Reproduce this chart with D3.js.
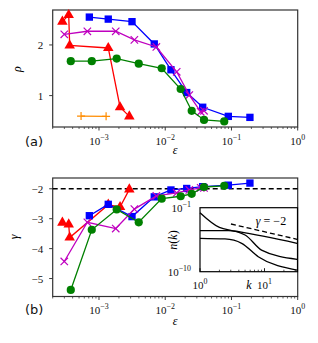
<!DOCTYPE html>
<html>
<head>
<meta charset="utf-8">
<script src="https://cdn.jsdelivr.net/npm/d3@7"></script>
<style>
body{margin:0;background:#fff}
svg{display:block}
</style>
</head>
<body>
<div id="chart"></div>
<script>
// values
const epsBlue = [7.15e-4, 1.38e-3, 3.15e-3, 6.83e-3, 0.0122, 0.0211, 0.0368, 0.0896, 0.19];
const rhoBlue = [2.55, 2.51, 2.46, 2.02, 1.51, 1.06, 0.77, 0.59, 0.57];
const gamBlue = [-2.90, -2.52, -2.93, -2.27, -2.04, -1.99, -1.93, -1.88, -1.81];

const epsMag = [2.99e-4, 6.67e-4, 1.79e-3, 3.42e-3, 7.34e-3, 0.0149, 0.0231, 0.0343, 0.0385];
const rhoMag = [2.21, 2.27, 2.27, 2.10, 1.96, 1.47, 1.01, 0.68, 0.70];
const gamMag = [-4.43, -3.12, -3.33, -2.68, -2.24, -2.14, -2.04, -1.97, -1.97];

const epsGreen = [3.75e-4, 7.78e-4, 1.85e-3, 3.98e-3, 8.85e-3, 0.0171, 0.0251, 0.0385, 0.0778];
const rhoGreen = [1.68, 1.68, 1.73, 1.63, 1.54, 1.13, 0.70, 0.52, 0.49];
const gamGreen = [-5.38, -3.37, -2.69, -3.12, -2.33, -2.25, -2.17, -1.94, -1.90];

const epsRed = [2.8e-4, 3.49e-4, 3.61e-4, 1.38e-3, 2.08e-3, 2.87e-3];
const rhoRed = [2.46, 2.59, 1.99, 1.94, 0.77, 0.59];
const gamRed = [-3.13, -3.19, -3.63, -2.53, -2.61, -2.02];

const epsOrange = [5.36e-4, 1.28e-3];
const rhoOrange = [0.596, 0.59];

const rhoTicks = [1, 2];
const gamTicks = [-2, -3, -4, -5];
const epsTicks = [1e-3, 1e-2, 1e-1, 1];
const gammaRef = -2;

// inset n(k) curves
const kTop = [1, 2, 3, 4, 32];
const nTop = [2e-2, 1.7e-4, 6.5e-5, 4.2e-5, 9.8e-7];
const kMid = [1, 2.75, 5, 9, 32];
const nMid = [5.9e-5, 5.9e-5, 1.45e-5, 1.1e-7, 5.5e-9];
const kLow = [1, 2.44, 4.43, 8, 32];
const nLow = [5e-6, 4e-6, 9.8e-7, 1.3e-8, 1.7e-10];
const kDash = [3.02, 32];
const nDash = [5.1e-4, 3.6e-6];
const kTicks = [1, 10];
const nTicks = [1e-1, 1e-10];

const W = 318, H = 343;
const svg = d3.select("#chart").append("svg").attr("width", W).attr("height", H);

const serif = "'Liberation Serif', 'DejaVu Serif', serif";
const sans = "'DejaVu Sans', sans-serif";

const x = d3.scaleLog().domain([2e-4, 1]).range([52.7, 297.7]);
const yA = d3.scaleLinear().domain([0.38, 2.69]).range([127, 10]);
const yB = d3.scaleLinear().domain([-5.6, -1.64]).range([296.5, 178]);

const minus = s => String(s).replace("-", "\u2212");

function powLabel(sel, v, size){
    let e = Math.round(Math.log10(v));
    sel.append("tspan").text("10").attr("font-size", size);
    sel.append("tspan").text(minus(e)).attr("font-size", size*0.72).attr("dy", -size*0.42);
}

function marker(g, type, color){
    if (type === "square")
        g.append("path").attr("d", d3.symbol(d3.symbolSquare, 54)()).attr("fill", color);
    else if (type === "circle")
        g.append("circle").attr("r", 4.1).attr("fill", color);
    else if (type === "tri")
        g.append("path").attr("d", d3.symbol(d3.symbolTriangle, 48)()).attr("fill", color);
    else if (type === "x")
        g.append("path").attr("d", "M-3.7,-3.7L3.7,3.7M-3.7,3.7L3.7,-3.7")
            .attr("stroke", color).attr("stroke-width", 1.2).attr("fill", "none");
    else if (type === "plus")
        g.append("path").attr("d", "M-4,0L4,0M0,-4L0,4")
            .attr("stroke", color).attr("stroke-width", 1.2).attr("fill", "none");
}

function drawSeries(g, xs, ys, y, color, type){
    let pts = xs.map((d, i) => [d, ys[i]]);
    g.append("path").datum(pts)
        .attr("fill", "none").attr("stroke", color).attr("stroke-width", 1.3)
        .attr("d", d3.line().x(d => x(d[0])).y(d => y(d[1])));
    g.selectAll(null).data(pts).join("g")
        .attr("transform", d => `translate(${x(d[0])},${y(d[1])})`)
        .each(function(){ marker(d3.select(this), type, color); });
}

function drawFrame(y, yTicks, label, tag, xlabelY){
    let [x0, x1] = x.range(), [y1, y0] = y.range();
    let g = svg.append("g");
    // x ticks
    let minors = [];
    for (let p = -4; p < 0; p++) for (let m = 2; m < 10; m++){
        let v = m * Math.pow(10, p);
        if (v >= x.domain()[0] && v <= 1) minors.push(v);
    }
    g.selectAll(null).data(minors).join("line")
        .attr("x1", d => x(d)).attr("x2", d => x(d))
        .attr("y1", y1).attr("y2", y1 + 2)
        .attr("stroke", "#222").attr("stroke-width", 0.7);
    g.selectAll(null).data(epsTicks).join("line")
        .attr("x1", d => x(d)).attr("x2", d => x(d))
        .attr("y1", y1).attr("y2", y1 + 3.5)
        .attr("stroke", "#222").attr("stroke-width", 0.9);
    g.selectAll(null).data(epsTicks).join("text")
        .attr("x", d => x(d)).attr("y", y1 + 17.5)
        .attr("text-anchor", "middle").attr("font-family", serif).attr("fill", "#111")
        .each(function(d){ powLabel(d3.select(this), d, 11); });
    // y ticks
    g.selectAll(null).data(yTicks).join("line")
        .attr("x1", x0 - 3.5).attr("x2", x0)
        .attr("y1", d => y(d)).attr("y2", d => y(d))
        .attr("stroke", "#222").attr("stroke-width", 0.9);
    g.selectAll(null).data(yTicks).join("text")
        .attr("x", x0 - 9.5).attr("y", d => y(d) + 4)
        .attr("text-anchor", "end").attr("font-family", serif).attr("font-size", 11)
        .attr("fill", "#111")
        .text(d => minus(d));
    // frame
    g.append("rect").attr("x", x0).attr("y", y0).attr("width", x1 - x0).attr("height", y1 - y0)
        .attr("fill", "none").attr("stroke", "#333").attr("stroke-width", 1.2);
    // labels
    g.append("text").attr("x", (x0 + x1) / 2).attr("y", xlabelY)
        .attr("text-anchor", "middle").attr("font-family", serif).attr("font-style", "italic")
        .attr("font-size", 12).text("\u03b5");
    g.append("text").attr("transform", `translate(${label.x},${label.y}) rotate(-90)`)
        .attr("text-anchor", "middle").attr("font-family", serif).attr("font-style", "italic")
        .attr("font-size", 12).text(label.t);
    g.append("text").attr("x", tag.x).attr("y", tag.y)
        .attr("font-family", sans).attr("font-size", 13).attr("fill", "#111").text(tag.t);
}

// panel (a)
drawFrame(yA, rhoTicks, {x: 21, y: 69, t: "\u03c1"}, {x: 25, y: 146, t: "(a)"}, 154);
let gA = svg.append("g");
drawSeries(gA, epsOrange, rhoOrange, yA, "#ff8c00", "plus");
drawSeries(gA, epsRed, rhoRed, yA, "#ff0000", "tri");
drawSeries(gA, epsBlue, rhoBlue, yA, "#0000ff", "square");
drawSeries(gA, epsMag, rhoMag, yA, "#bf00bf", "x");
drawSeries(gA, epsGreen, rhoGreen, yA, "#008000", "circle");

// panel (b)
drawFrame(yB, gamTicks, {x: 18, y: 237, t: "\u03b3"}, {x: 25, y: 314, t: "(b)"}, 324.5);
let gB = svg.append("g");
gB.append("line").attr("x1", x.range()[0]).attr("x2", x.range()[1])
    .attr("y1", yB(gammaRef)).attr("y2", yB(gammaRef))
    .attr("stroke", "#000").attr("stroke-width", 1.3).attr("stroke-dasharray", "5,3");
drawSeries(gB, epsRed, gamRed, yB, "#ff0000", "tri");
drawSeries(gB, epsBlue, gamBlue, yB, "#0000ff", "square");
drawSeries(gB, epsMag, gamMag, yB, "#bf00bf", "x");
drawSeries(gB, epsGreen, gamGreen, yB, "#008000", "circle");

// inset
const kx = d3.scaleLog().domain([1, 32.5]).range([200, 297.5]);
const ny = d3.scaleLog().domain([1e-10, 1e-1]).range([271.7, 207.7]);
let gi = svg.append("g");
gi.append("rect").attr("x", 200).attr("y", 207.7).attr("width", 97.5).attr("height", 64)
    .attr("fill", "#fff");
let iline = d3.line().x(d => kx(d[0])).y(d => ny(d[1])).curve(d3.curveMonotoneX);
[[kTop, nTop], [kMid, nMid], [kLow, nLow]].forEach(([ks, ns]) => {
    gi.append("path").datum(ks.map((k, i) => [k, ns[i]]))
        .attr("fill", "none").attr("stroke", "#000").attr("stroke-width", 1.3).attr("d", iline);
});
gi.append("path").datum(kDash.map((k, i) => [k, nDash[i]]))
    .attr("fill", "none").attr("stroke", "#000").attr("stroke-width", 1.3)
    .attr("stroke-dasharray", "5,3").attr("d", iline);
let kMinor = [];
for (let p = 0; p < 2; p++) for (let m = 2; m < 10; m++){
    let v = m * Math.pow(10, p);
    if (v < 32.5) kMinor.push(v);
}
gi.selectAll(null).data(kMinor).join("line")
    .attr("x1", d => kx(d)).attr("x2", d => kx(d))
    .attr("y1", 271.7).attr("y2", 269.7).attr("stroke", "#000").attr("stroke-width", 0.7);
gi.selectAll(null).data(kTicks).join("line")
    .attr("x1", d => kx(d)).attr("x2", d => kx(d))
    .attr("y1", 271.7).attr("y2", 268.2).attr("stroke", "#000").attr("stroke-width", 0.9);
gi.append("rect").attr("x", 200).attr("y", 207.7).attr("width", 97.5).attr("height", 64)
    .attr("fill", "none").attr("stroke", "#000").attr("stroke-width", 1.2);
gi.selectAll(null).data(kTicks).join("text")
    .attr("x", d => kx(d)).attr("y", 289)
    .attr("text-anchor", "middle").attr("font-family", serif).attr("fill", "#111")
    .each(function(d){ powLabel(d3.select(this), d, 11); });
gi.selectAll(null).data(nTicks).join("text")
    .attr("x", 191).attr("y", d => ny(d) + 4)
    .attr("text-anchor", "end").attr("font-family", serif).attr("fill", "#111")
    .each(function(d){ powLabel(d3.select(this), d, 11); });
gi.append("text").attr("x", 249).attr("y", 289).attr("text-anchor", "middle")
    .attr("font-family", serif).attr("font-style", "italic").attr("font-size", 12).text("k");
gi.append("text").attr("transform", "translate(177,240) rotate(-90)").attr("text-anchor", "middle")
    .attr("font-family", serif).attr("font-size", 12)
    .html("<tspan font-style='italic'>n</tspan>(<tspan font-style='italic'>k</tspan>)");
gi.append("text").attr("x", 271).attr("y", 225).attr("text-anchor", "middle")
    .attr("font-family", serif).attr("font-size", 12)
    .html("<tspan font-style='italic'>\u03b3</tspan> = \u22122");
</script>
</body>
</html>
